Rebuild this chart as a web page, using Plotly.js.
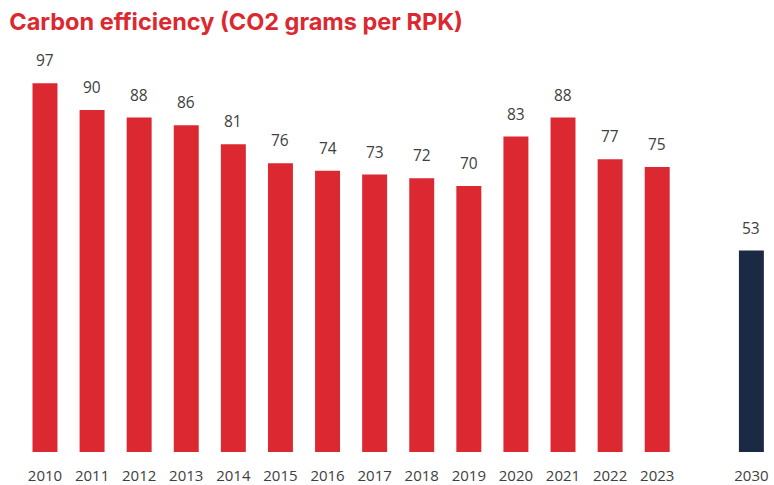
<!DOCTYPE html>
<html><head><meta charset="utf-8">
<script src="https://cdn.plot.ly/plotly-3.0.1.min.js"></script>
<style>body{margin:0;background:#fff}#c{width:774px;height:485px}</style>
</head><body><div id="c"></div>
<script>
const years = ['2010','2011','2012','2013','2014','2015','2016','2017','2018','2019','2020','2021','2022','2023'];
const values = [97,90,88,86,81,76,74,73,72,70,83,88,77,75];
const targetYear = ['2030'];
const targetValue = [53];
const gapCategory = [' '];

const categories = years.concat(gapCategory, targetYear);
const textFont = {family:'Open Sans, Liberation Sans, sans-serif', size:15.5, color:'#404040'};

const traces = [
  {type:'bar', x:years, y:values, marker:{color:'#dc2830'}, width:0.53, hoverinfo:'skip'},
  {type:'bar', x:gapCategory, y:[null], hoverinfo:'skip'},
  {type:'bar', x:targetYear, y:targetValue, marker:{color:'#1b2942'}, width:0.53, hoverinfo:'skip'}
];

const labelYears = years.concat(targetYear);
const labelValues = values.concat(targetValue);
const annotations = labelYears.map((yr, i) => ({
  x:categories.indexOf(yr), y:labelValues[i], xref:'x', yref:'y', text:String(labelValues[i]),
  showarrow:false, yanchor:'bottom', yshift:10, font:textFont
}));

const layout = {
  width:774, height:485,
  margin:{l:0, r:0, t:40, b:33},
  paper_bgcolor:'#fff', plot_bgcolor:'#fff',
  showlegend:false,
  barmode:'overlay',
  annotations:annotations,
  title:{text:'<b>Carbon efficiency (CO2 grams per RPK)</b>', x:0.012, xanchor:'left', y:0.955, yanchor:'middle',
         font:{family:'Inter, Open Sans, sans-serif', size:23.5, color:'#dc2830'}},
  xaxis:{type:'category', categoryorder:'array', categoryarray:categories,
         range:[-0.955, 15.48], showgrid:false, zeroline:false, showline:false,
         ticks:'outside', ticklen:10, tickcolor:'rgba(0,0,0,0)',
         tickfont:{family:'Open Sans, Liberation Sans, sans-serif', size:15, color:'#404040'}},
  yaxis:{range:[0,108.4], visible:false, showgrid:false, zeroline:false}
};
Plotly.newPlot('c', traces, layout, {staticPlot:true, displayModeBar:false});
</script></body></html>
